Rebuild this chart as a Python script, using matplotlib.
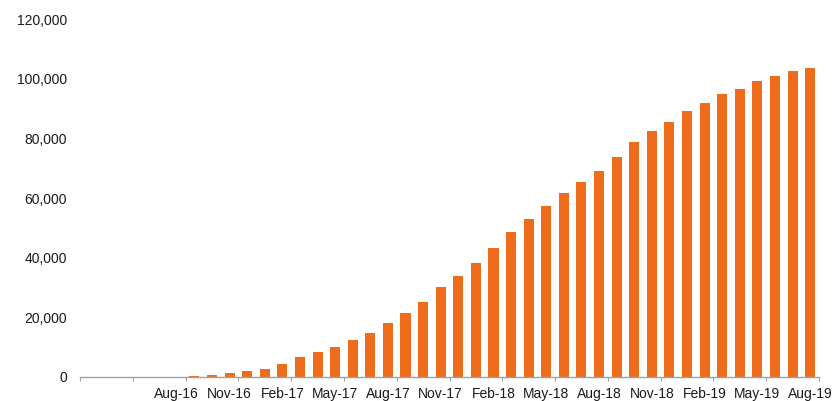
import matplotlib
matplotlib.use("Agg")
import matplotlib.pyplot as plt
from matplotlib.ticker import FuncFormatter, FixedLocator

months = ["Mar-16", "Apr-16", "May-16", "Jun-16", "Jul-16", "Aug-16", "Sep-16", "Oct-16",
          "Nov-16", "Dec-16", "Jan-17", "Feb-17", "Mar-17", "Apr-17", "May-17", "Jun-17",
          "Jul-17", "Aug-17", "Sep-17", "Oct-17", "Nov-17", "Dec-17", "Jan-18", "Feb-18",
          "Mar-18", "Apr-18", "May-18", "Jun-18", "Jul-18", "Aug-18", "Sep-18", "Oct-18",
          "Nov-18", "Dec-18", "Jan-19", "Feb-19", "Mar-19", "Apr-19", "May-19", "Jun-19",
          "Jul-19", "Aug-19"]
values = [0, 0, 0, 50, 100, 150, 350, 800,
          1400, 2000, 2800, 4500, 6600, 8400, 10200, 12300,
          14900, 18000, 21400, 25300, 30300, 33900, 38400, 43400,
          48700, 53000, 57500, 61800, 65500, 69200, 73700, 79000,
          82600, 85700, 89300, 92000, 94900, 96800, 99200, 101000,
          102700, 103600]
y_ticks = [0, 20000, 40000, 60000, 80000, 100000, 120000]

plt.rcParams["font.family"] = ["Liberation Sans", "DejaVu Sans"]

fig = plt.figure(figsize=(8.34, 4.01), dpi=100)
ax = fig.add_axes([80 / 834, 24 / 401, 739 / 834, 357.6 / 401])

x = list(range(len(months)))
ax.bar(x, values, width=0.57, color="#ee6c1c", zorder=2)

ax.set_xlim(-0.5, len(months) - 0.5)
ax.set_ylim(0, 120000)

# labels on every third month, tick marks on category boundaries
label_idx = list(range(5, len(months), 3))
ax.set_xticks(label_idx)
ax.set_xticklabels([months[i] for i in label_idx], fontsize=10, color="#1a1a1a")
ax.tick_params(axis="x", which="major", length=0, pad=7)
ax.xaxis.set_minor_locator(FixedLocator([k - 0.5 for k in range(0, len(months) + 1, 3)]))
ax.tick_params(axis="x", which="minor", length=3, color="#a0a0a0", width=0.8)

ax.set_yticks(y_ticks)
ax.yaxis.set_major_formatter(FuncFormatter(lambda v, p: f"{int(v):,}"))
ax.tick_params(axis="y", length=0, pad=9.5, labelsize=10, labelcolor="#1a1a1a")

for side in ("top", "right", "left"):
    ax.spines[side].set_visible(False)
ax.spines["bottom"].set_color("#a0a0a0")
ax.spines["bottom"].set_linewidth(1.0)

fig.savefig("out.png", dpi=100, facecolor="white")
